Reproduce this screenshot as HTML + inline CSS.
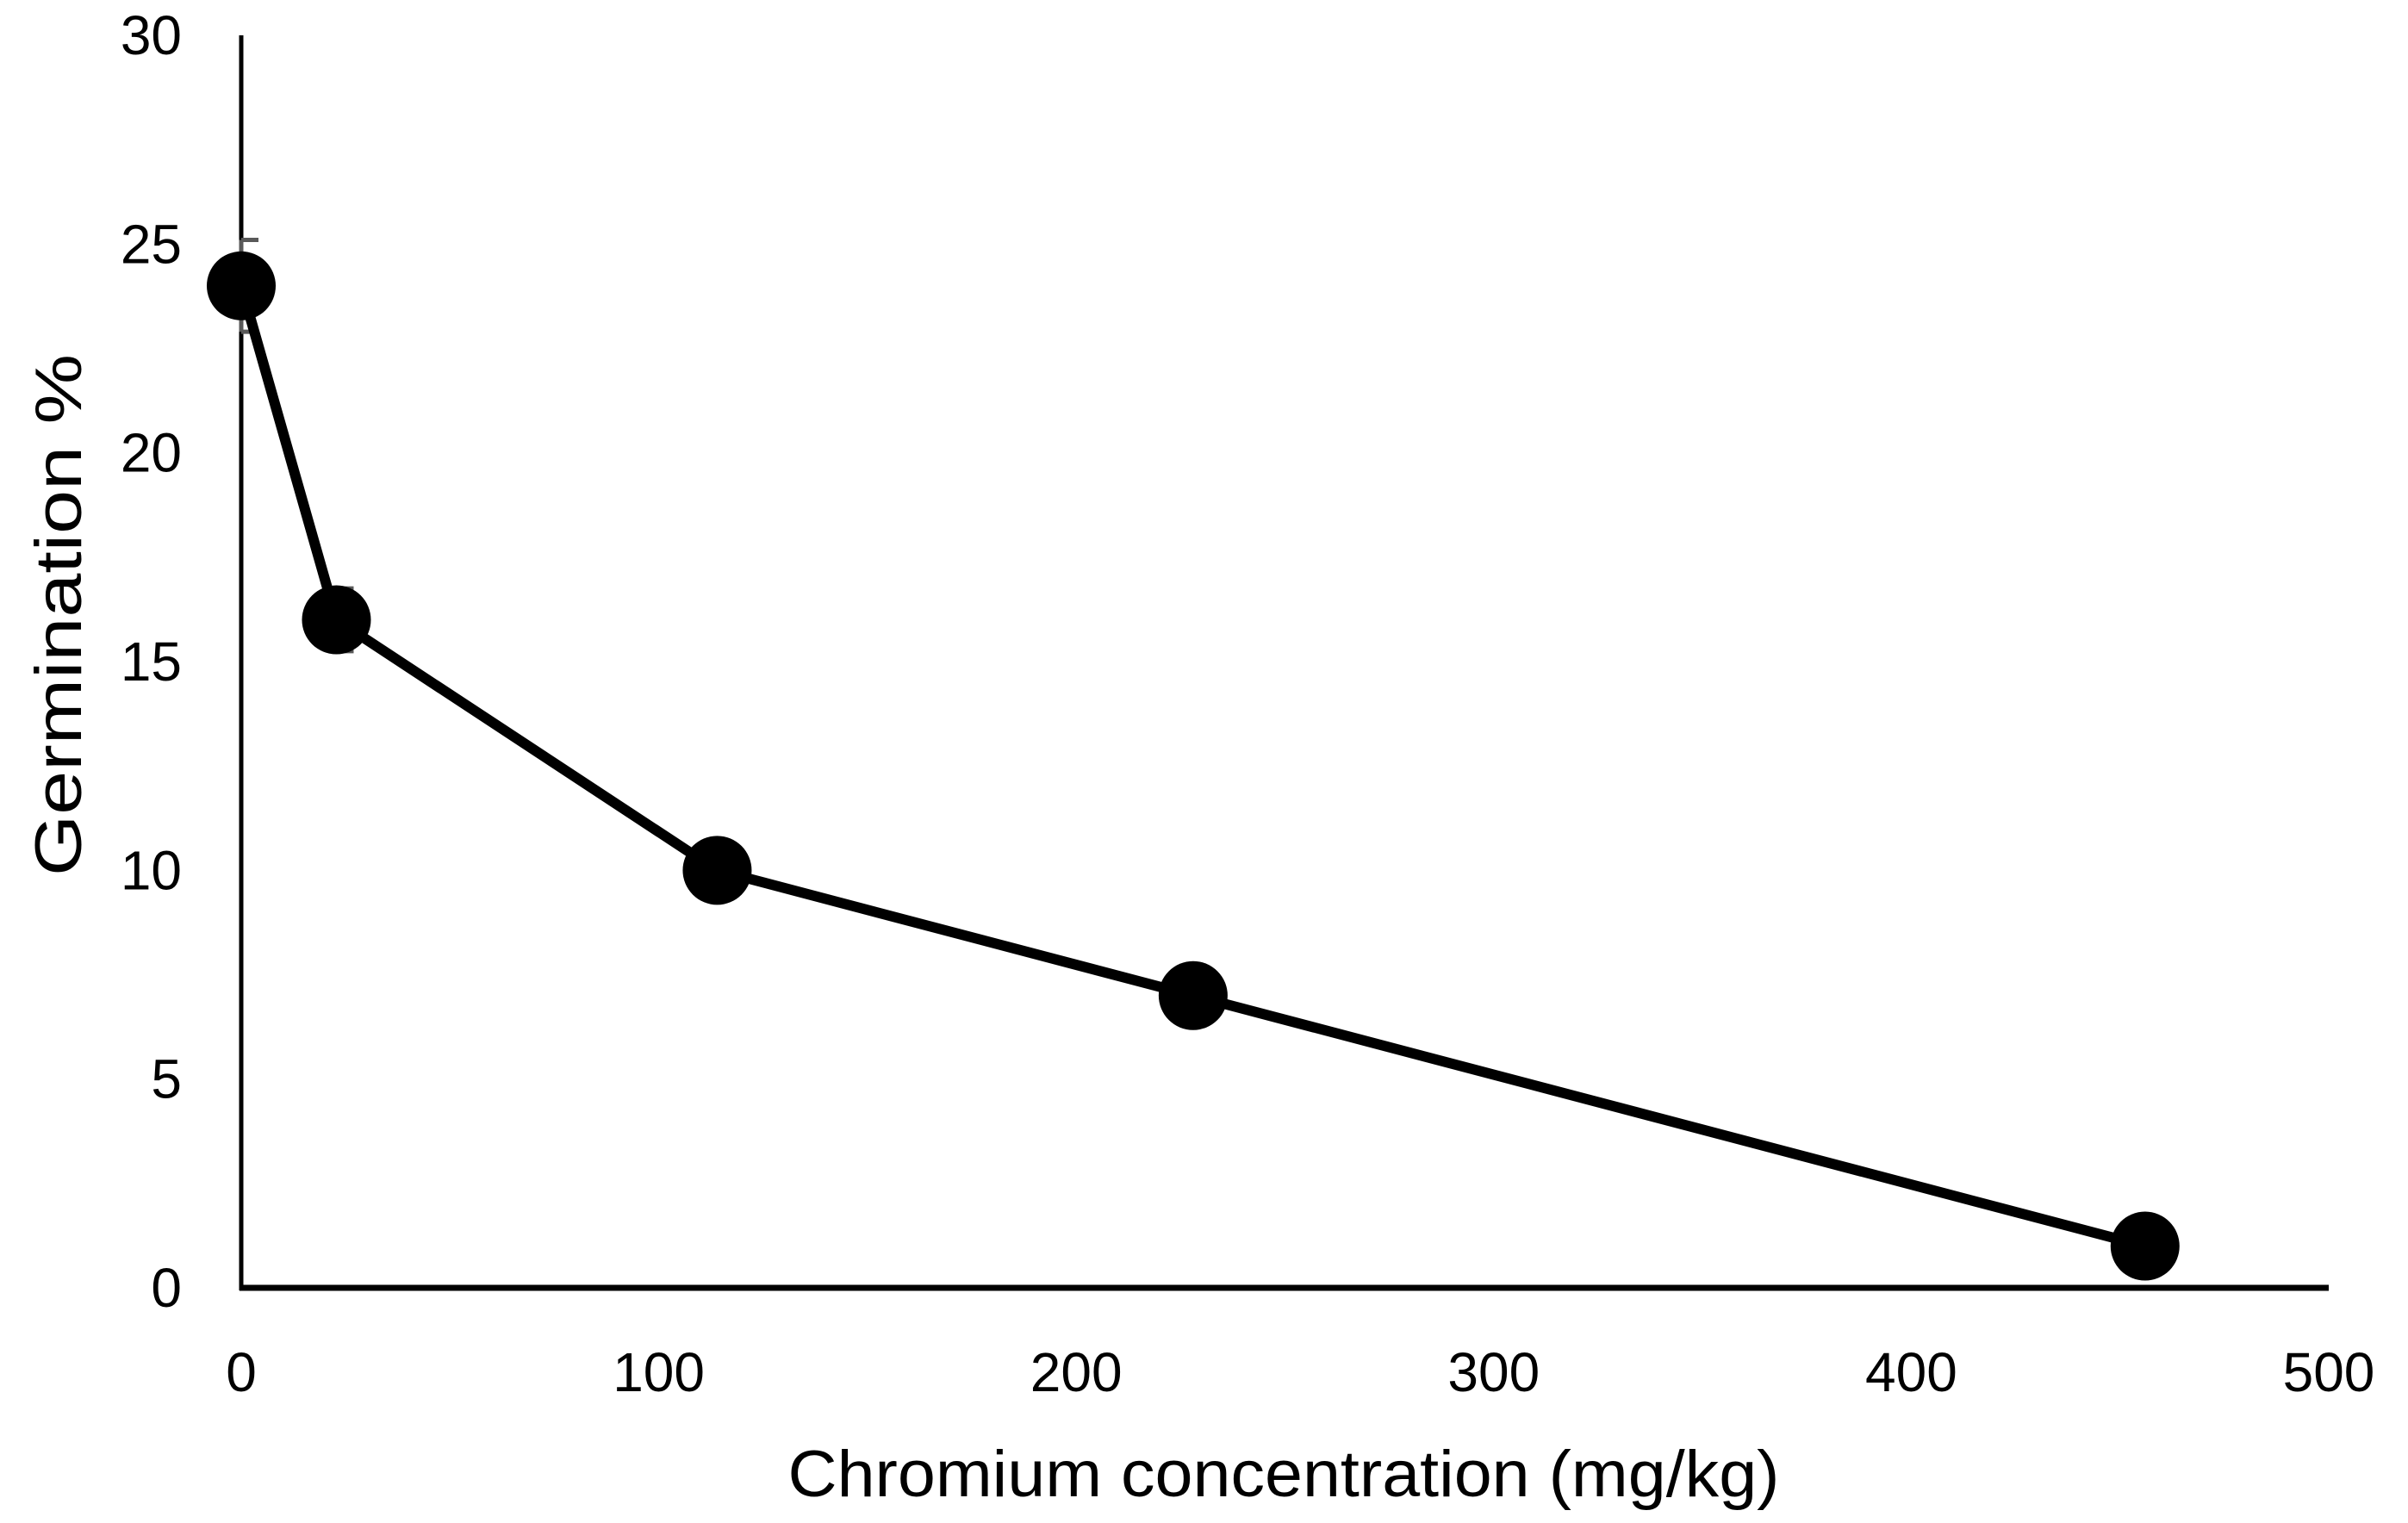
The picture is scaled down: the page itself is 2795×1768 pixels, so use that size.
<!DOCTYPE html>
<html><head><meta charset="utf-8">
<style>html,body{margin:0;padding:0;background:#fff;}svg{display:block;}</style>
</head><body>
<svg id="chart" width="2795" height="1768" viewBox="0 0 2795 1768" xmlns="http://www.w3.org/2000/svg" font-family="'Liberation Sans', sans-serif">
<g id="axes"></g><g id="series"></g>
</svg>
<script>
const xValues = [0, 22.8, 114, 228, 456];
const yValues = [24, 16, 10, 7, 1];
const yErrors = [1.1, 0.75, 0, 0, 0];
const xTicks = [0, 100, 200, 300, 400, 500];
const yTicks = [0, 5, 10, 15, 20, 25, 30];

const NS = 'http://www.w3.org/2000/svg';
const X0 = 280, X1 = 2703, Y0 = 1495, Y1 = 41;
function sx(v){ return X0 + (v - 0) / 500 * (X1 - X0); }
function sy(v){ return Y0 - (v - 0) / 30 * (Y0 - Y1); }
function mk(tag, attrs, parent){ const e = document.createElementNS(NS, tag); for (const k in attrs) e.setAttribute(k, attrs[k]); parent.appendChild(e); return e; }
const axes = document.getElementById('axes');
const series = document.getElementById('series');

const yAxis = mk('line', {x1:X0, y1:sy(30), x2:X0, y2:Y0+3, stroke:'#000', 'stroke-width':5}, axes);


const xAxis = mk('line', {x1:X0-2, y1:Y0, x2:X1, y2:Y0, stroke:'#000', 'stroke-width':7}, axes);



yTicks.forEach(t => {
  const el = mk('text', {x:211, y:sy(t)+22, 'text-anchor':'end', 'font-size':64, fill:'#000'}, axes);
  el.textContent = t;
  
  
});
xTicks.forEach(t => {
  const el = mk('text', {x:sx(t), y:1615, 'text-anchor':'middle', 'font-size':64, fill:'#000'}, axes);
  el.textContent = t;
  
  
});
const xt = mk('text', {x:1490, y:1737, 'text-anchor':'middle', 'font-size':76, fill:'#000', textLength:1151, lengthAdjust:'spacingAndGlyphs'}, axes);
xt.textContent = 'Chromium concentration  (mg/kg)';


const yt = mk('text', {x:0, y:0, 'text-anchor':'middle', 'font-size':76, fill:'#000', textLength:606, lengthAdjust:'spacingAndGlyphs', transform:'translate(94,714) rotate(-90)'}, axes);
yt.textContent = 'Germination %';



xValues.forEach((x, i) => {
  const e = yErrors[i];
  if (e > 0) {
    const g = mk('path', {d:`M${sx(x)} ${sy(yValues[i]+e)} H${sx(x)+20} M${sx(x)} ${sy(yValues[i]-e)} H${sx(x)+20} M${sx(x)} ${sy(yValues[i]+e)} V${sy(yValues[i]-e)}`, stroke:'#595959', 'stroke-width':5, fill:'none'}, series);
    
    
  }
});
const line = mk('polyline', {points: xValues.map((x,i)=>sx(x)+','+sy(yValues[i])).join(' '), fill:'none', stroke:'#000', 'stroke-width':12, 'stroke-linejoin':'round'}, series);


xValues.forEach((x, i) => {
  const c = mk('circle', {cx:sx(x), cy:sy(yValues[i]), r:40, fill:'#000'}, series);
  
  
});
</script>
</body></html>
